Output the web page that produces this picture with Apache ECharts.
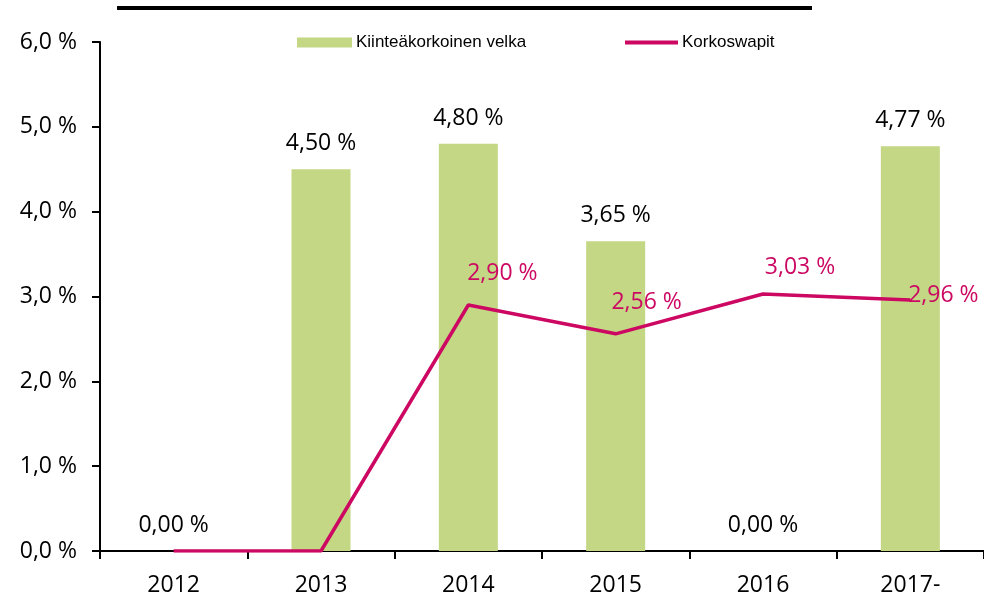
<!DOCTYPE html>
<html>
<head>
<meta charset="utf-8">
<script src="https://cdn.jsdelivr.net/npm/echarts@6/dist/echarts.min.js"></script>
<style>
  html, body { margin: 0; padding: 0; background: #fff; }
  #chart { width: 984px; height: 600px; }
</style>
</head>
<body>
<div id="chart"></div>
<script>
// categories and values
const years = ['2012', '2013', '2014', '2015', '2016', '2017-'];
const fixedDebt = [0.00, 4.50, 4.80, 3.65, 0.00, 4.77];
const swaps = [0.00, 0.00, 2.90, 2.56, 3.03, 2.96];
const yTicks = { min: 0, max: 6, interval: 1 };

const GREEN = '#C3D784';
const RED = '#CC0862';
const FONT = '"Open Sans", sans-serif';
const LEGEND_FONT = '"Liberation Sans", Arial';

const pct = (v, d) => v.toFixed(d).replace('.', ',') + ' %';

// label nudges for the swap line (the original has them off to the right)
const swapNudge = [null, null, [34, -15], [31, -15], [37, -10], [33, 12]];

const swapData = swaps.map((v, i) => {
  const n = swapNudge[i];
  if (!n) return { value: v, label: { show: false } };
  return { value: v, label: { show: true, offset: n } };
});

const chart = echarts.init(document.getElementById('chart'));
chart.setOption({
  animation: false,
  backgroundColor: '#fff',
  graphic: [{
    type: 'line',
    shape: { x1: 117, y1: 8, x2: 812, y2: 8 },
    style: { stroke: '#000', lineWidth: 4 }
  }],
  legend: [{
    left: 297, top: 34, padding: 0,
    itemWidth: 55, itemHeight: 10,
    icon: 'rect',
    data: ['Kiinteäkorkoinen velka'],
    textStyle: { fontFamily: LEGEND_FONT, fontSize: 17, color: '#000', padding: [0, 0, 0, -1] }
  }, {
    left: 625, top: 34, padding: 0,
    itemWidth: 53, itemHeight: 10,
    icon: 'path://M0,0 L53,0 L53,4 L0,4 Z',
    data: ['Korkoswapit'],
    textStyle: { fontFamily: LEGEND_FONT, fontSize: 17, color: '#000', padding: [0, 0, 0, -1] }
  }],
  grid: { left: 100, top: 42, width: 886, height: 509, containLabel: false },
  xAxis: {
    type: 'category',
    data: years,
    axisLine: { lineStyle: { color: '#000', width: 2 } },
    axisTick: { show: true, length: 8, lineStyle: { color: '#000', width: 2 } },
    axisLabel: { fontFamily: FONT, fontSize: 23, color: '#000', margin: 23 }
  },
  yAxis: {
    type: 'value',
    min: yTicks.min, max: yTicks.max, interval: yTicks.interval,
    axisLine: { show: true, lineStyle: { color: '#000', width: 2 } },
    axisTick: { show: true, length: 8, lineStyle: { color: '#000', width: 2 } },
    splitLine: { show: false },
    axisLabel: { fontFamily: FONT, fontSize: 23, color: '#000', margin: 23,
      formatter: v => pct(v, 1) }
  },
  series: [{
    name: 'Kiinteäkorkoinen velka',
    type: 'bar',
    data: fixedDebt,
    barWidth: 59,
    itemStyle: { color: GREEN },
    label: {
      show: true, position: 'top', distance: 14,
      fontFamily: FONT, fontSize: 23, color: '#000',
      formatter: p => pct(p.value, 2)
    }
  }, {
    name: 'Korkoswapit',
    type: 'line',
    data: swapData,
    symbol: 'circle',
    symbolSize: 0.1,
    showSymbol: true,
    z: 5,
    lineStyle: { color: RED, width: 3.5 },
    itemStyle: { color: RED },
    label: {
      position: 'top', distance: 5,
      fontFamily: FONT, fontSize: 23, color: RED,
      formatter: p => pct(p.value, 2)
    }
  }]
});
</script>
</body>
</html>
